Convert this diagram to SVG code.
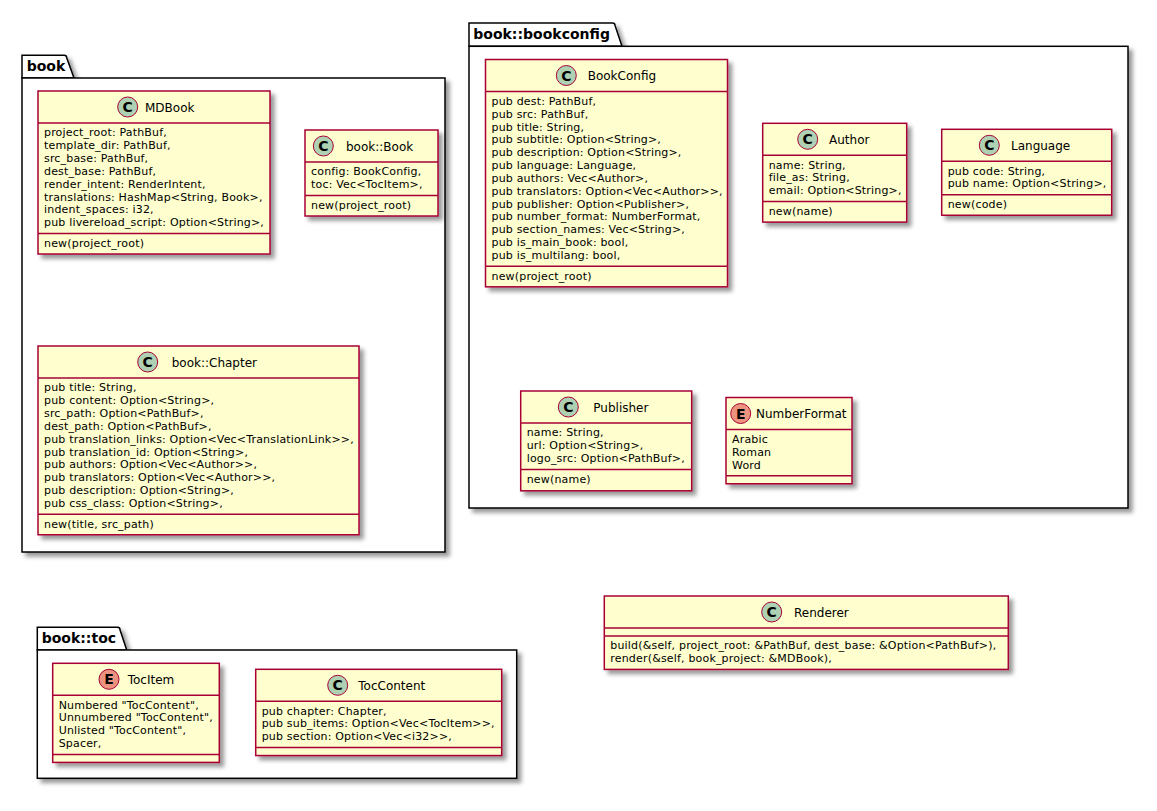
<svg xmlns="http://www.w3.org/2000/svg" width="1157" height="811" viewBox="0 0 1157 811">
  <defs>
    <filter id="shadow" x="-1" y="-1" width="300%" height="300%">
      <feGaussianBlur result="blurOut" stdDeviation="2"/>
      <feColorMatrix in="blurOut" result="blurOut2" type="matrix" values="0 0 0 0 0 0 0 0 0 0 0 0 0 0 0 0 0 0 .4 0"/>
      <feOffset dx="4" dy="4" in="blurOut2" result="blurOut3"/>
      <feBlend in="SourceGraphic" in2="blurOut3" mode="normal"/>
    </filter>
    <style>
      .pkg { fill: #FFFFFF; stroke: #000000; stroke-width: 1.5; }
      .pkgname { font-family: "DejaVu Sans", "Noto Sans", sans-serif; font-size: 14px; font-weight: bold; fill: #000000; }
      .box { fill: #FEFECE; stroke: #A80036; stroke-width: 1.5; }
      .sep { stroke: #A80036; stroke-width: 1.5; }
      .cls { fill: #ADD1B2; stroke: #A80036; stroke-width: 1; }
      .enm { fill: #EB937F; stroke: #A80036; stroke-width: 1; }
      .glyph { font-family: "DejaVu Sans", sans-serif; font-size: 14px; font-weight: bold; text-anchor: middle; fill: #000000; }
      .title { font-family: "DejaVu Sans", "Noto Sans", sans-serif; font-size: 12px; fill: #000000; }
      .mem { font-family: "DejaVu Sans", "Noto Sans", sans-serif; font-size: 11px; letter-spacing: 0.18px; fill: #000000; }
    </style>
  </defs>
  <rect width="1157" height="811" fill="#FFFFFF"/>

  <!-- packages -->
  <g id="pkg-book" filter="url(#shadow)">
    <path class="pkg" d="M22,78 L22,55.3 L64.2,55.3 A2.5,2.5 0 0 1 66.7,57.8 L74,78 Z"/>
    <rect class="pkg" x="22" y="78" width="423" height="474"/>
  </g>
  <text class="pkgname" x="26.7" y="71">book</text>

  <g id="pkg-bookconfig" filter="url(#shadow)">
    <path class="pkg" d="M469,46.3 L469,23 L612.5,23 A2.5,2.5 0 0 1 615,25.5 L622,46.3 Z"/>
    <rect class="pkg" x="469" y="46.3" width="659" height="461.7"/>
  </g>
  <text class="pkgname" x="473.3" y="39">book::bookconfig</text>

  <g id="pkg-toc" filter="url(#shadow)">
    <path class="pkg" d="M37.3,650 L37.3,627.3 L117.5,627.3 A2.5,2.5 0 0 1 120,629.8 L126.7,650 Z"/>
    <rect class="pkg" x="37.3" y="650" width="479.4" height="128.3"/>
  </g>
  <text class="pkgname" x="41.7" y="643">book::toc</text>

  <!-- connectors -->
  <g id="connectors"></g>

  <!-- book -->
  <g id="MDBook">
    <rect class="box" x="38" y="91" width="232" height="163" filter="url(#shadow)"/>
    <circle class="cls" cx="127.7" cy="107" r="10"/>
    <text class="glyph" x="127.7" y="112">C</text>
    <text class="title" x="145" y="111.5">MDBook</text>
    <line class="sep" x1="38" y1="123" x2="270" y2="123"/>
    <text class="mem" x="44" y="136.3">project_root: PathBuf,</text>
    <text class="mem" x="44" y="149.15">template_dir: PathBuf,</text>
    <text class="mem" x="44" y="162">src_base: PathBuf,</text>
    <text class="mem" x="44" y="174.85">dest_base: PathBuf,</text>
    <text class="mem" x="44" y="187.7">render_intent: RenderIntent,</text>
    <text class="mem" x="44" y="200.55">translations: HashMap&lt;String, Book&gt;,</text>
    <text class="mem" x="44" y="213.4">indent_spaces: i32,</text>
    <text class="mem" x="44" y="226.25">pub livereload_script: Option&lt;String&gt;,</text>
    <line class="sep" x1="38" y1="233.5" x2="270" y2="233.5"/>
    <text class="mem" x="44" y="246.8">new(project_root)</text>
  </g>

  <g id="Book">
    <rect class="box" x="305" y="130" width="133" height="86" filter="url(#shadow)"/>
    <circle class="cls" cx="323.3" cy="146" r="10"/>
    <text class="glyph" x="323.3" y="151">C</text>
    <text class="title" x="346" y="150.5">book::Book</text>
    <line class="sep" x1="305" y1="162" x2="438" y2="162"/>
    <text class="mem" x="311" y="175.3">config: BookConfig,</text>
    <text class="mem" x="311" y="188.15">toc: Vec&lt;TocItem&gt;,</text>
    <line class="sep" x1="305" y1="195.4" x2="438" y2="195.4"/>
    <text class="mem" x="311" y="208.7">new(project_root)</text>
  </g>

  <g id="Chapter">
    <rect class="box" x="38" y="346" width="321" height="188.75" filter="url(#shadow)"/>
    <circle class="cls" cx="147.7" cy="362" r="10"/>
    <text class="glyph" x="147.7" y="367">C</text>
    <text class="title" x="171.7" y="366.5">book::Chapter</text>
    <line class="sep" x1="38" y1="378" x2="359" y2="378"/>
    <text class="mem" x="44" y="391.3">pub title: String,</text>
    <text class="mem" x="44" y="404.15">pub content: Option&lt;String&gt;,</text>
    <text class="mem" x="44" y="417">src_path: Option&lt;PathBuf&gt;,</text>
    <text class="mem" x="44" y="429.85">dest_path: Option&lt;PathBuf&gt;,</text>
    <text class="mem" x="44" y="442.7">pub translation_links: Option&lt;Vec&lt;TranslationLink&gt;&gt;,</text>
    <text class="mem" x="44" y="455.55">pub translation_id: Option&lt;String&gt;,</text>
    <text class="mem" x="44" y="468.4">pub authors: Option&lt;Vec&lt;Author&gt;&gt;,</text>
    <text class="mem" x="44" y="481.25">pub translators: Option&lt;Vec&lt;Author&gt;&gt;,</text>
    <text class="mem" x="44" y="494.1">pub description: Option&lt;String&gt;,</text>
    <text class="mem" x="44" y="506.95">pub css_class: Option&lt;String&gt;,</text>
    <line class="sep" x1="38" y1="514.2" x2="359" y2="514.2"/>
    <text class="mem" x="44" y="527.5">new(title, src_path)</text>
  </g>

  <!-- book::bookconfig -->
  <g id="BookConfig">
    <rect class="box" x="485.5" y="59.5" width="242" height="227.3" filter="url(#shadow)"/>
    <circle class="cls" cx="566.3" cy="75.5" r="10"/>
    <text class="glyph" x="566.3" y="80.5">C</text>
    <text class="title" x="587.7" y="80">BookConfig</text>
    <line class="sep" x1="485.5" y1="91.5" x2="727.5" y2="91.5"/>
    <text class="mem" x="491.5" y="104.8">pub dest: PathBuf,</text>
    <text class="mem" x="491.5" y="117.65">pub src: PathBuf,</text>
    <text class="mem" x="491.5" y="130.5">pub title: String,</text>
    <text class="mem" x="491.5" y="143.35">pub subtitle: Option&lt;String&gt;,</text>
    <text class="mem" x="491.5" y="156.2">pub description: Option&lt;String&gt;,</text>
    <text class="mem" x="491.5" y="169.05">pub language: Language,</text>
    <text class="mem" x="491.5" y="181.9">pub authors: Vec&lt;Author&gt;,</text>
    <text class="mem" x="491.5" y="194.75">pub translators: Option&lt;Vec&lt;Author&gt;&gt;,</text>
    <text class="mem" x="491.5" y="207.6">pub publisher: Option&lt;Publisher&gt;,</text>
    <text class="mem" x="491.5" y="220.45">pub number_format: NumberFormat,</text>
    <text class="mem" x="491.5" y="233.3">pub section_names: Vec&lt;String&gt;,</text>
    <text class="mem" x="491.5" y="246.15">pub is_main_book: bool,</text>
    <text class="mem" x="491.5" y="259">pub is_multilang: bool,</text>
    <line class="sep" x1="485.5" y1="266.25" x2="727.5" y2="266.25"/>
    <text class="mem" x="491.5" y="279.55">new(project_root)</text>
  </g>

  <g id="Author">
    <rect class="box" x="762.7" y="123.3" width="144" height="98.8" filter="url(#shadow)"/>
    <circle class="cls" cx="807.7" cy="139.3" r="10"/>
    <text class="glyph" x="807.7" y="144.3">C</text>
    <text class="title" x="829" y="143.8">Author</text>
    <line class="sep" x1="762.7" y1="155.3" x2="906.7" y2="155.3"/>
    <text class="mem" x="768.7" y="168.6">name: String,</text>
    <text class="mem" x="768.7" y="181.45">file_as: String,</text>
    <text class="mem" x="768.7" y="194.3">email: Option&lt;String&gt;,</text>
    <line class="sep" x1="762.7" y1="201.55" x2="906.7" y2="201.55"/>
    <text class="mem" x="768.7" y="214.85">new(name)</text>
  </g>

  <g id="Language">
    <rect class="box" x="941.7" y="129.3" width="170" height="85.95" filter="url(#shadow)"/>
    <circle class="cls" cx="989.3" cy="145.3" r="10"/>
    <text class="glyph" x="989.3" y="150.3">C</text>
    <text class="title" x="1011" y="149.8">Language</text>
    <line class="sep" x1="941.7" y1="161.3" x2="1111.7" y2="161.3"/>
    <text class="mem" x="947.7" y="174.6">pub code: String,</text>
    <text class="mem" x="947.7" y="187.45">pub name: Option&lt;String&gt;,</text>
    <line class="sep" x1="941.7" y1="194.7" x2="1111.7" y2="194.7"/>
    <text class="mem" x="947.7" y="208">new(code)</text>
  </g>

  <g id="Publisher">
    <rect class="box" x="520.7" y="391" width="171" height="99.8" filter="url(#shadow)"/>
    <circle class="cls" cx="568.3" cy="407" r="10"/>
    <text class="glyph" x="568.3" y="412">C</text>
    <text class="title" x="593.3" y="411.5">Publisher</text>
    <line class="sep" x1="520.7" y1="423" x2="691.7" y2="423"/>
    <text class="mem" x="526.7" y="436.3">name: String,</text>
    <text class="mem" x="526.7" y="449.15">url: Option&lt;String&gt;,</text>
    <text class="mem" x="526.7" y="462">logo_src: Option&lt;PathBuf&gt;,</text>
    <line class="sep" x1="520.7" y1="469.5" x2="691.7" y2="469.5"/>
    <text class="mem" x="526.7" y="482.8">new(name)</text>
  </g>

  <g id="NumberFormat">
    <rect class="box" x="726" y="397.5" width="126" height="86.25" filter="url(#shadow)"/>
    <circle class="enm" cx="740.7" cy="413.5" r="10"/>
    <text class="glyph" x="740.7" y="418.5">E</text>
    <text class="title" x="756" y="418">NumberFormat</text>
    <line class="sep" x1="726" y1="429.5" x2="852" y2="429.5"/>
    <text class="mem" x="732" y="442.8">Arabic</text>
    <text class="mem" x="732" y="455.65">Roman</text>
    <text class="mem" x="732" y="468.5">Word</text>
    <line class="sep" x1="726" y1="475.75" x2="852" y2="475.75"/>
  </g>

  <!-- book::toc -->
  <g id="TocItem">
    <rect class="box" x="52.7" y="663.3" width="166.6" height="99.1" filter="url(#shadow)"/>
    <circle class="enm" cx="109" cy="679.3" r="10"/>
    <text class="glyph" x="109" y="684.3">E</text>
    <text class="title" x="127.7" y="683.8">TocItem</text>
    <line class="sep" x1="52.7" y1="695.3" x2="219.3" y2="695.3"/>
    <text class="mem" x="58.7" y="708.6">Numbered "TocContent",</text>
    <text class="mem" x="58.7" y="721.45">Unnumbered "TocContent",</text>
    <text class="mem" x="58.7" y="734.3">Unlisted "TocContent",</text>
    <text class="mem" x="58.7" y="747.15">Spacer,</text>
    <line class="sep" x1="52.7" y1="754.4" x2="219.3" y2="754.4"/>
  </g>

  <g id="TocContent">
    <rect class="box" x="255.7" y="669.3" width="246" height="86.25" filter="url(#shadow)"/>
    <circle class="cls" cx="337.7" cy="685.3" r="10"/>
    <text class="glyph" x="337.7" y="690.3">C</text>
    <text class="title" x="358.3" y="689.8">TocContent</text>
    <line class="sep" x1="255.7" y1="701.3" x2="501.7" y2="701.3"/>
    <text class="mem" x="261.7" y="714.6">pub chapter: Chapter,</text>
    <text class="mem" x="261.7" y="727.45">pub sub_items: Option&lt;Vec&lt;TocItem&gt;&gt;,</text>
    <text class="mem" x="261.7" y="740.3">pub section: Option&lt;Vec&lt;i32&gt;&gt;,</text>
    <line class="sep" x1="255.7" y1="747.55" x2="501.7" y2="747.55"/>
  </g>

  <!-- standalone -->
  <g id="Renderer">
    <rect class="box" x="604.3" y="596" width="404" height="73.4" filter="url(#shadow)"/>
    <circle class="cls" cx="771.7" cy="612" r="10"/>
    <text class="glyph" x="771.7" y="617">C</text>
    <text class="title" x="794" y="616.5">Renderer</text>
    <line class="sep" x1="604.3" y1="628" x2="1008.3" y2="628"/>
    <line class="sep" x1="604.3" y1="636" x2="1008.3" y2="636"/>
    <text class="mem" x="610.3" y="649.3">build(&amp;self, project_root: &amp;PathBuf, dest_base: &amp;Option&lt;PathBuf&gt;),</text>
    <text class="mem" x="610.3" y="662.15">render(&amp;self, book_project: &amp;MDBook),</text>
  </g>
</svg>
